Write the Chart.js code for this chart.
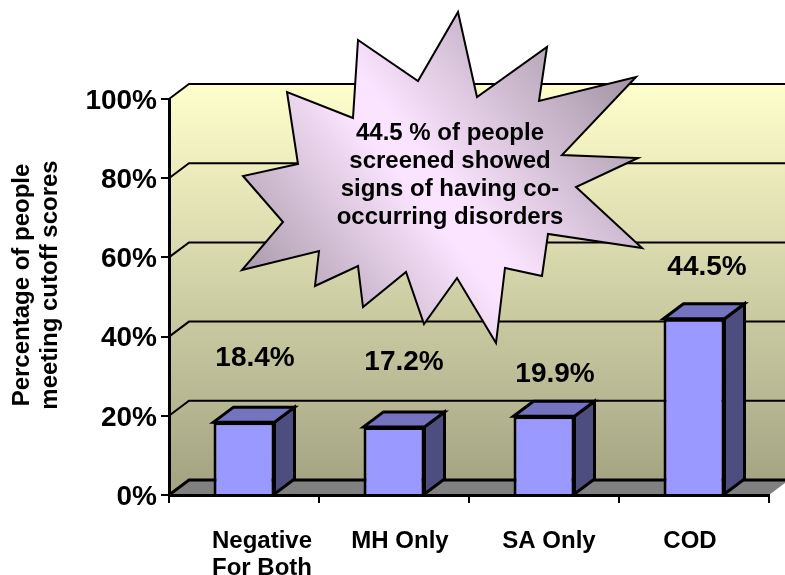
<!DOCTYPE html>
<html><head><meta charset="utf-8">
<style>html,body{margin:0;padding:0;background:#fff}#w{width:785px;height:575px;position:relative}canvas{display:block}</style>
<script src="https://cdn.jsdelivr.net/npm/chart.js@4/dist/chart.umd.min.js"></script>
</head><body><div id="w"><canvas id="c" width="785" height="575"></canvas></div>
<script>
const categories = [['Negative','For Both'],['MH Only'],['SA Only'],['COD']];
const values = [18.4,17.2,19.9,44.5];
const yTitleLines = ['Percentage of people','meeting cutoff scores'];
const calloutLines = ['44.5 % of people','screened showed','signs of having co-','occurring disorders'];

const FONT = '"Liberation Sans", Arial, sans-serif';
const depthX = 20, depthY = 15;
const tickShift = [18,6,5,-4];
const labelDX = [11,10,11,13];
const labelDY = [-64,-65,-42,-51];
const burst = [[458,12],[477,97],[547,47],[539,101],[636,77],[562,155],[638,158],[576,187],[642,248],[548,234],[542,276],[505,268],[496,343],[457,278],[424,324],[406,272],[363,307],[358,266],[315,286],[319,251],[242,270],[283,222],[243,176],[298,164],[287,92],[353,118],[358,40],[418,81]];

function poly(ctx, pts, fill, stroke, lw){
  ctx.beginPath();
  pts.forEach((p,i)=> i?ctx.lineTo(p[0],p[1]):ctx.moveTo(p[0],p[1]));
  ctx.closePath();
  if(fill){ctx.fillStyle=fill;ctx.fill();}
  if(stroke){ctx.strokeStyle=stroke;ctx.lineWidth=lw;ctx.lineJoin='miter';ctx.stroke();}
}

const scene = {
  id:'scene',
  afterLayout(chart){
    const {x,y} = chart.scales;
    x.getLabelItems(chart.chartArea).forEach((it,i)=>{ it.options.translation[0] += tickShift[i]; it.options.translation[1] += 3; });
    y.getLabelItems(chart.chartArea).forEach(it=>{ it.options.translation[1] += 2; });
  },
  beforeDraw(chart){
    const {ctx,chartArea:a,scales:{y}} = chart;
    const rightEnd = a.right+depthX, top = y.getPixelForValue(100)-depthY, floor = a.bottom-depthY;
    ctx.save();
    const g = ctx.createLinearGradient(0,top,0,floor);
    g.addColorStop(0,'#ffffcc'); g.addColorStop(1,'#a5a584');
    poly(ctx,[[a.left+depthX,top],[rightEnd,top],[rightEnd,floor],[a.left+depthX,floor]],g);
    poly(ctx,[[a.left,a.top],[a.left+depthX,top],[a.left+depthX,floor],[a.left,a.bottom]],g);
    poly(ctx,[[a.left,a.bottom],[a.left+depthX,floor],[rightEnd,floor],[a.right,a.bottom]],'#808080');
    ctx.strokeStyle='#000';
    y.ticks.forEach(t=>{
      const py = y.getPixelForValue(t.value);
      ctx.lineWidth = t.value===0?3:2;
      ctx.beginPath();ctx.moveTo(a.left,py);ctx.lineTo(a.left+depthX,py-depthY);ctx.lineTo(rightEnd,py-depthY);ctx.stroke();
    });
    ctx.restore();
  },
  beforeDatasetsDraw(chart){
    const {ctx} = chart;
    ctx.save();
    chart.getDatasetMeta(0).data.forEach(b=>{
      const l=b.x-b.width/2, r=b.x+b.width/2;
      poly(ctx,[[r,b.y],[r+depthX,b.y-depthY],[r+depthX,b.base-depthY],[r,b.base]],'#4d4d80','#000',3);
      poly(ctx,[[l,b.y],[l+depthX,b.y-depthY],[r+depthX,b.y-depthY],[r,b.y]],'#7373bf','#000',3);
    });
    ctx.restore();
  },
  afterDraw(chart){
    const {ctx} = chart;
    ctx.save();
    ctx.fillStyle='#000';ctx.textAlign='center';ctx.textBaseline='middle';
    ctx.font='bold 28px '+FONT;
    chart.getDatasetMeta(0).data.forEach((b,i)=>{
      ctx.fillText(values[i].toFixed(1)+'%', b.x+labelDX[i], b.y+labelDY[i]);
    });
    const g = ctx.createLinearGradient(270,326,610,54);
    g.addColorStop(0,'#a595a5'); g.addColorStop(.45,'#fbe4ff'); g.addColorStop(.52,'#fbe4ff'); g.addColorStop(1,'#a595a5');
    poly(ctx,burst,g,'#000',2);
    ctx.fillStyle='#000';
    ctx.font='bold 24px '+FONT;
    calloutLines.forEach((t,i)=>ctx.fillText(t,450,133+i*28));
    ctx.restore();
  }
};

new Chart(document.getElementById('c'),{
  type:'bar',
  data:{labels:categories,datasets:[{data:values,backgroundColor:'#9999ff',borderColor:'#000',borderWidth:3,barPercentage:61/150,categoryPercentage:1}]},
  plugins:[scene],
  options:{
    responsive:false,animation:false,
    layout:{padding:{top:99,right:16,left:0,bottom:0}},
    plugins:{legend:{display:false},tooltip:{enabled:false},title:{display:false}},
    scales:{
      x:{
        grid:{display:true,drawOnChartArea:false,color:'#000',lineWidth:2,tickLength:8,offset:true},
        border:{display:true,color:'#000',width:3},
        ticks:{color:'#000',font:{family:FONT,weight:'bold',size:24,lineHeight:1.13},padding:22,maxRotation:0,minRotation:0,autoSkip:false},
        afterFit(s){s.height=80;}
      },
      y:{
        min:0,max:100,
        grid:{display:true,drawOnChartArea:false,color:'#000',lineWidth:2,tickLength:8},
        border:{display:true,color:'#000',width:3},
        ticks:{stepSize:20,color:'#000',font:{family:FONT,weight:'bold',size:28},padding:4,callback:v=>v+'%'},
        title:{display:true,text:yTitleLines,color:'#000',font:{family:FONT,weight:'bold',size:24,lineHeight:1.18},padding:{top:8,bottom:0}},
        afterFit(s){
          s.width=169;
          if(!s._shifted){
            s._shifted=true;
            const orig=s.drawTitle;
            s.drawTitle=function(){const c=this.ctx;c.save();c.translate(0,-12);orig.apply(this,arguments);c.restore();};
          }
        }
      }
    }
  }
});
</script></body></html>
